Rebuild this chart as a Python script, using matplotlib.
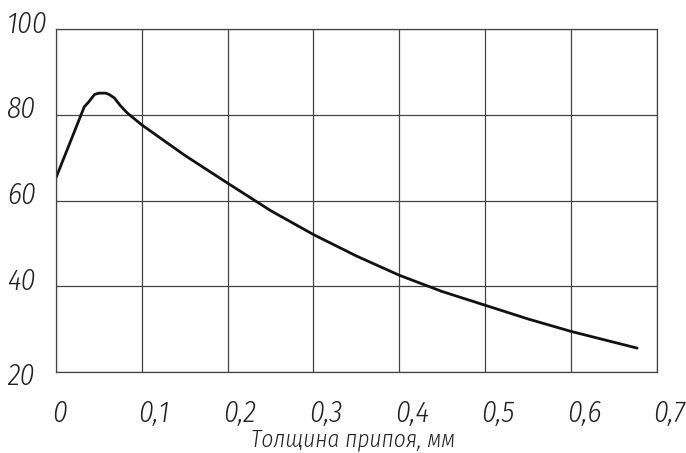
import matplotlib
matplotlib.use('Agg')
import matplotlib.pyplot as plt
from matplotlib import font_manager
from matplotlib.ft2font import FT2Font
from matplotlib.transforms import ScaledTranslation, blended_transform_factory

# datos
espesor = [0.0, 0.033, 0.038, 0.045, 0.05, 0.058, 0.062, 0.068, 0.075, 0.083,
           0.1, 0.15, 0.2, 0.25, 0.3, 0.35, 0.4, 0.45, 0.5, 0.55, 0.6, 0.677]
resistencia = [65.3, 81.9, 83.0, 84.8, 85.1, 85.1, 84.8, 84.0, 82.2, 80.5,
               77.7, 70.6, 64.1, 57.7, 52.1, 47.1, 42.6, 38.8, 35.6, 32.4, 29.5, 25.6]

xticks = [0, 0.1, 0.2, 0.3, 0.4, 0.5, 0.6, 0.7]
xlabels = ['0', '0,1', '0,2', '0,3', '0,4', '0,5', '0,6', '0,7']
yticks = [20, 40, 60, 80, 100]
ylabels = ['20', '40', '60', '80', '100']
xtitulo = 'Толщина припоя, мм'


def tiene_cirilico(ruta):
    try:
        cm = FT2Font(ruta).get_charmap()
    except Exception:
        return False
    return all(ord(c) in cm for c in 'Тлщпя')


def peso(w):
    if isinstance(w, str):
        return font_manager.weight_dict.get(w, 400)
    return w


# busco una fuente angosta, fina e italica con cirilico
candidatas = []
for f in font_manager.fontManager.ttflist:
    angosta = ('Narrow' in f.name or 'Condensed' in f.name
               or 'ondensed' in f.fname or 'Narrow' in f.fname)
    if angosta and tiene_cirilico(f.fname):
        candidatas.append(f)
if candidatas:
    candidatas.sort(key=lambda f: (f.style == 'normal', abs(peso(f.weight) - 300), f.fname))
    fp = font_manager.FontProperties(fname=candidatas[0].fname, size=21)
else:
    fp = font_manager.FontProperties(family='DejaVu Sans', style='italic', size=15)
fp_titulo = fp.copy()
fp_titulo.set_size(fp.get_size() * 0.8)

fig = plt.figure(figsize=(6.86, 4.53), dpi=100)
ax = fig.add_axes([0.0815, 0.1786, 0.876, 0.7567])

ax.plot(espesor, resistencia, color='#111111', lw=2.0,
        solid_joinstyle='round', solid_capstyle='round')

ax.set_xlim(0, 0.7)
ax.set_ylim(20, 100)
ax.set_xticks(xticks)
ax.set_yticks(yticks)
ax.grid(True, color='#444444', lw=0.9)
ax.set_xticklabels([])
ax.set_yticklabels([])
ax.tick_params(length=0)
for s in ax.spines.values():
    s.set_color('#444444')
    s.set_linewidth(0.9)

# etiquetas de los ejes a mano (alineadas como en el original)
trx = ax.get_xaxis_transform()
for v, t in zip(xticks, xlabels):
    off = ScaledTranslation(-4 / 100, -27 / 100, fig.dpi_scale_trans)
    ax.text(v, 0, t, transform=trx + off, ha='left', va='top',
            fontproperties=fp, color='#222222')

try_ = blended_transform_factory(fig.transFigure, ax.transData)
for v, t in zip(yticks, ylabels):
    dy = -5 if v == yticks[0] else 5
    off = ScaledTranslation(0, dy / 100, fig.dpi_scale_trans)
    ax.text(7 / 686, v, t, transform=try_ + off, ha='left', va='center',
            fontproperties=fp, color='#222222')

fig.text(353 / 686, 1 - 439 / 453, xtitulo, ha='center', va='center',
         fontproperties=fp_titulo, color='#222222')

fig.savefig('out.png', dpi=100, facecolor='white')
